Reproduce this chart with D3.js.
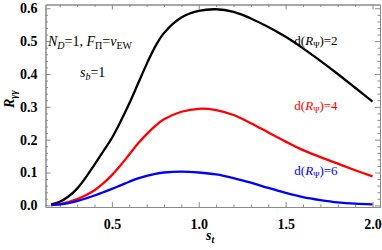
<!DOCTYPE html>
<html>
<head>
<meta charset="utf-8">
<script src="https://cdn.jsdelivr.net/npm/d3@7"></script>
<style>
  body { margin: 0; background: #fff; }
  svg text { font-family: "Liberation Serif", "DejaVu Serif", serif; }
</style>
</head>
<body>
<div id="chart"></div>
<script>
// s_t sample points and R_gamma_gamma values
const st = [0.15, 0.2, 0.25, 0.3, 0.35, 0.4, 0.45, 0.5, 0.55, 0.6, 0.65, 0.7, 0.75, 0.8, 0.9, 1.0, 1.1, 1.2, 1.3, 1.4, 1.5, 1.6, 1.7, 1.8, 1.9, 2.0];
const rD2 = [0.003, 0.011, 0.027, 0.051, 0.085, 0.124, 0.164, 0.205, 0.255, 0.31, 0.37, 0.43, 0.484, 0.525, 0.572, 0.592, 0.597, 0.589, 0.569, 0.543, 0.513, 0.478, 0.44, 0.4, 0.358, 0.316];
const rD4 = [0.001, 0.004, 0.01, 0.019, 0.031, 0.046, 0.067, 0.092, 0.122, 0.155, 0.188, 0.217, 0.242, 0.262, 0.285, 0.294, 0.29, 0.275, 0.25, 0.222, 0.194, 0.168, 0.147, 0.127, 0.107, 0.088];
const rD6 = [0.001, 0.003, 0.007, 0.013, 0.021, 0.03, 0.04, 0.05, 0.061, 0.072, 0.082, 0.09, 0.096, 0.1, 0.103, 0.1, 0.094, 0.083, 0.069, 0.053, 0.038, 0.025, 0.016, 0.009, 0.005, 0.003];

const xMajor = [0.5, 1.0, 1.5, 2.0];
const xMinor = [0.2, 0.3, 0.4, 0.6, 0.7, 0.8, 0.9, 1.1, 1.2, 1.3, 1.4, 1.6, 1.7, 1.8, 1.9];
const yMajor = [0.0, 0.1, 0.2, 0.3, 0.4, 0.5, 0.6];
const yMinor = [0.02, 0.04, 0.06, 0.08, 0.12, 0.14, 0.16, 0.18, 0.22, 0.24, 0.26, 0.28,
  0.32, 0.34, 0.36, 0.38, 0.42, 0.44, 0.46, 0.48, 0.52, 0.54, 0.56, 0.58];

const series = [
  { values: rD2, color: '#000000', label: '2', lx: 1.55, ly: 0.488 },
  { values: rD4, color: '#ff0000', label: '4', lx: 1.55, ly: 0.29 },
  { values: rD6, color: '#0000ff', label: '6', lx: 1.55, ly: 0.092 }
];

const width = 382, height = 250;
const svg = d3.select('#chart').append('svg')
  .attr('width', width)
  .attr('height', height);

const x = d3.scaleLinear().domain([0.118, 2.043]).range([45.5, 380]);
const y = d3.scaleLinear().domain([-0.005, 0.6115]).range([207, 4.5]);

const frameColor = '#8a8a8a';
const [x0, x1] = x.range();
const [y0, y1] = y.range();

// frame axes: bottom & left labelled, top & right only ticks
function styleAxis(g) {
  g.select('.domain').attr('stroke', frameColor).attr('stroke-width', 1);
  g.selectAll('.tick line').attr('stroke', frameColor);
  g.selectAll('.tick text')
    .attr('fill', '#000')
    .style('font-size', '14px')
    .style('font-weight', 'bold');
}

function frameSide(axisFn, pos, ticks, size, labelled, pad) {
  const ax = axisFn.tickValues(ticks).tickSize(size).tickSizeOuter(0);
  if (labelled) ax.tickFormat(d3.format('.1f')).tickPadding(pad);
  else ax.tickFormat('');
  svg.append('g').attr('transform', pos).call(ax).call(styleAxis);
}

frameSide(d3.axisBottom(x), `translate(0,${y0})`, xMajor, -5, true, 12);
frameSide(d3.axisBottom(x), `translate(0,${y0})`, xMinor, -2.5, false);
frameSide(d3.axisTop(x), `translate(0,${y1})`, xMajor, -5, false);
frameSide(d3.axisTop(x), `translate(0,${y1})`, xMinor, -2.5, false);
frameSide(d3.axisLeft(y), `translate(${x0},0)`, yMajor, -5, true, 8);
frameSide(d3.axisLeft(y), `translate(${x0},0)`, yMinor, -2.5, false);
frameSide(d3.axisRight(y), `translate(${x1},0)`, yMajor, -5, false);
frameSide(d3.axisRight(y), `translate(${x1},0)`, yMinor, -2.5, false);

// curves
const line = d3.line()
  .x((d, i) => x(st[i]))
  .y(d => y(d))
  .curve(d3.curveCatmullRom.alpha(0.5));

series.forEach(s => {
  svg.append('path')
    .datum(s.values)
    .attr('fill', 'none')
    .attr('stroke', s.color)
    .attr('stroke-width', 2.3)
    .attr('d', line);
});

// curve labels  d(R_Ψ)=n
series.forEach(s => {
  const t = svg.append('text')
    .attr('x', x(s.lx))
    .attr('y', y(s.ly))
    .attr('fill', s.color)
    .style('font-size', '13px');
  t.append('tspan').text('d(');
  t.append('tspan').style('font-style', 'italic').text('R');
  t.append('tspan').attr('dy', 3).style('font-size', '8.5px').text('Ψ');
  t.append('tspan').attr('dy', -3).text(')=' + s.label);
});

// parameter annotations
const ann = svg.append('text').attr('x', 48).attr('y', 46).style('font-size', '14px');
ann.append('tspan').style('font-style', 'italic').text('N');
ann.append('tspan').attr('dy', 3).style('font-size', '10px').style('font-style', 'italic').text('D');
ann.append('tspan').attr('dy', -3).text('=1, ');
ann.append('tspan').style('font-style', 'italic').text('F');
ann.append('tspan').attr('dy', 3).style('font-size', '10px').text('Π');
ann.append('tspan').attr('dy', -3).text('=');
ann.append('tspan').style('font-style', 'italic').text('v');
ann.append('tspan').attr('dy', 3).style('font-size', '10px').text('EW');

const sb = svg.append('text').attr('x', 80).attr('y', 77).style('font-size', '14px');
sb.append('tspan').style('font-style', 'italic').text('s');
sb.append('tspan').attr('dy', 3).style('font-size', '10px').style('font-style', 'italic').text('b');
sb.append('tspan').attr('dy', -3).text('=1');

// axis titles
const xt = svg.append('text')
  .attr('x', 206)
  .attr('y', 240)
  .style('font-size', '14px')
  .style('font-weight', 'bold')
  .style('font-style', 'italic');
xt.append('tspan').text('s');
xt.append('tspan').attr('dy', 3).style('font-size', '10px').text('t');

const yt = svg.append('text')
  .attr('transform', 'translate(14,108) rotate(-90)')
  .style('font-size', '14px')
  .style('font-weight', 'bold')
  .style('font-style', 'italic');
yt.append('tspan').text('R');
yt.append('tspan').attr('dy', 3).style('font-size', '10px').text('γγ');
</script>
</body>
</html>
